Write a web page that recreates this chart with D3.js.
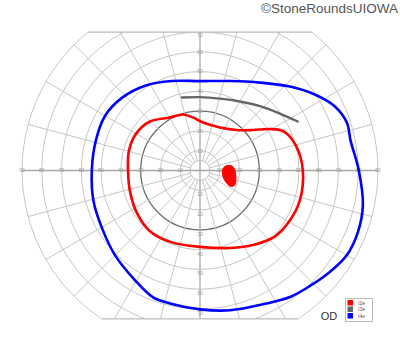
<!DOCTYPE html>
<html>
<head>
<meta charset="utf-8">
<script src="https://cdn.jsdelivr.net/npm/d3@7"></script>
<style>
  html, body { margin: 0; padding: 0; background: #fff; }
  #chart { width: 400px; height: 352px; }
</style>
</head>
<body>
<div id="chart"></div>
<script>
// ── Goldmann visual field, right eye (OD) ──────────
(function () {

  // Grid
  const RINGS       = [10, 20, 30, 40, 50, 60, 70, 80, 90];
  const MERIDIANS   = [0, 15, 30, 45, 60, 75, 90, 105, 120, 135, 150, 165,
                       180, 195, 210, 225, 240, 255, 270, 285, 300, 315, 330, 345];
  const H_LABELS    = [10, 20, 30, 40, 50, 60, 70, 80, 90];
  const V_LABELS    = [10, 20, 30, 40, 50, 60, 70];
  const TOP_LIMIT   = 70;   // field cut at top (deg)
  const BOTTOM_LIMIT = 75;  // field cut at bottom (deg)

  // Isopters: [meridian deg (0 = right, ccw), eccentricity deg]
  const I2E = [
    [0, 52], [14.6, 50.1], [24.9, 46.8], [30.7, 41.1], [37.4, 33.7],
    [47.6, 27.7], [65, 24], [86.4, 24.3], [97.5, 27], [106.9, 29.6],
    [119.5, 30.8], [135.6, 35.4], [150, 37.3], [164.3, 37.3], [180, 36.4],
    [197.4, 37], [214.3, 38.5], [230.7, 39.8], [248.7, 39], [270, 38.6],
    [291.2, 42], [306.6, 46.6], [318.7, 50.5], [331, 52], [343.3, 52.7]
  ];
  const I3E = [
    [103.9, 38], [90, 37.1], [74.5, 37.7], [60, 40.3], [47, 44.5],
    [35.5, 49.6], [26.6, 55.3]
  ];
  const I4E = [
    [0, 80.3], [11.3, 77.6], [18.1, 78.1], [25.4, 75.5], [33.5, 69.6],
    [43, 62.2], [55.7, 53.8], [71.5, 47.7], [90, 45.2], [107.4, 47.4],
    [122.9, 51.1], [136.9, 53.9], [150, 55.4], [164, 54.8], [180, 54.7],
    [195.7, 56], [210.6, 57.5], [225, 60.7], [239.4, 64.5], [249.7, 68.4],
    [257.3, 68.9], [270, 70.2], [282.1, 72.3], [296, 75], [305.4, 78.5],
    [313.6, 80.6], [322, 83.3], [330.1, 85.7], [338.7, 85.7], [348, 84.2]
  ];
  const BLIND_SPOT = [
    [5, 11.7], [10.5, 13.9], [8, 16.3], [0, 17.7], [-12.5, 18.6],
    [-22.5, 19.1], [-27.3, 17.6], [-25.7, 15.1], [-14.6, 12]
  ];

  const LEGEND = [
    { label: "I2e", color: "#ff0000" },
    { label: "I3e", color: "#666666" },
    { label: "I4e", color: "#0000ff" }
  ];

  const W = 400, H = 352;
  const cx = 200, cy = 170.5;
  const FONT = "'Liberation Sans', Arial, sans-serif";

  const r = d3.scaleLinear().domain([0, 90]).range([0, 178]);
  const toXY = (ang, ecc) => {
    const a = ang * Math.PI / 180;
    return [cx + r(ecc) * Math.cos(a), cy - r(ecc) * Math.sin(a)];
  };

  const svg = d3.select("#chart").append("svg")
    .attr("width", W).attr("height", H);

  // ── Clip to the chart outline ──────────────────
  const yTop = cy - r(TOP_LIMIT), yBot = cy + r(BOTTOM_LIMIT);
  svg.append("clipPath").attr("id", "field-clip")
    .append("rect")
    .attr("x", 0).attr("y", yTop).attr("width", W).attr("height", yBot - yTop);

  const grid = svg.append("g").attr("clip-path", "url(#field-clip)");

  // Rings
  grid.selectAll(".ring").data([5].concat(RINGS)).join("circle")
    .attr("cx", cx).attr("cy", cy)
    .attr("r", d => r(d))
    .attr("fill", "none")
    .attr("stroke", d => d === 30 ? "#6e6e6e" : "#c6c6c6")
    .attr("stroke-width", d => d === 30 ? 1.3 : 1);

  // Meridians (from 5 deg outwards)
  grid.selectAll(".meridian").data(MERIDIANS.filter(m => m % 90 !== 0)).join("line")
    .attr("x1", d => toXY(d, 5)[0]).attr("y1", d => toXY(d, 5)[1])
    .attr("x2", d => toXY(d, 90)[0]).attr("y2", d => toXY(d, 90)[1])
    .attr("stroke", "#c6c6c6").attr("stroke-width", 1);

  // Main axes
  grid.append("line").attr("x1", cx - r(90)).attr("x2", cx + r(90))
    .attr("y1", cy).attr("y2", cy).attr("stroke", "#a8a8a8").attr("stroke-width", 1.3);
  grid.append("line").attr("x1", cx).attr("x2", cx)
    .attr("y1", cy - r(90)).attr("y2", cy + r(90)).attr("stroke", "#a8a8a8").attr("stroke-width", 1.3);

  // Top / bottom cut lines
  [[yTop, TOP_LIMIT], [yBot, BOTTOM_LIMIT]].forEach(([y, lim]) => {
    const dx = Math.sqrt(r(90) * r(90) - r(lim) * r(lim));
    svg.append("line").attr("x1", cx - dx).attr("x2", cx + dx)
      .attr("y1", y).attr("y2", y).attr("stroke", "#bdbdbd").attr("stroke-width", 1.2);
  });

  // Axis labels
  const lab = svg.append("g")
    .attr("font-family", FONT).attr("font-size", "5px")
    .attr("fill", "#9a9a9a").attr("text-anchor", "middle");
  H_LABELS.forEach(d => {
    lab.append("text").attr("x", cx - r(d)).attr("y", cy + 1.8).text(d);
    lab.append("text").attr("x", cx + r(d)).attr("y", cy + 1.8).text(d);
  });
  V_LABELS.forEach(d => {
    lab.append("text").attr("x", cx).attr("y", Math.max(cy - r(d) + 1.8, yTop + 5)).text(d);
    lab.append("text").attr("x", cx).attr("y", cy + r(d) + 6).text(d);
  });

  // ── Isopters ───────────────────────────────────
  const closed = d3.line().curve(d3.curveCatmullRomClosed.alpha(0.5));
  const open   = d3.line().curve(d3.curveCatmullRom.alpha(0.5));
  const pts = arr => arr.map(([a, e]) => toXY(a, e));

  svg.append("path").attr("d", closed(pts(I4E)))
    .attr("fill", "none").attr("stroke", "#0000ff").attr("stroke-width", 2.6);
  svg.append("path").attr("d", closed(pts(I2E)))
    .attr("fill", "none").attr("stroke", "#ff0000").attr("stroke-width", 2.6);
  svg.append("path").attr("d", open(pts(I3E)))
    .attr("fill", "none").attr("stroke", "#666666").attr("stroke-width", 2.4)
    .attr("stroke-linecap", "round");
  svg.append("path").attr("d", closed(pts(BLIND_SPOT)))
    .attr("fill", "#ff0000").attr("stroke", "#ff0000").attr("stroke-width", 1);

  // ── Legend ─────────────────────────────────────
  const lg = svg.append("g").attr("transform", "translate(345.5,298.5)");
  lg.append("rect").attr("width", 27).attr("height", 23)
    .attr("fill", "#fff").attr("stroke", "#bbbbbb").attr("stroke-width", 1);
  LEGEND.forEach((d, i) => {
    lg.append("rect").attr("x", 2).attr("y", 1.5 + i * 6.5)
      .attr("width", 5.5).attr("height", 5.5).attr("fill", d.color);
    lg.append("text").attr("x", 12.5).attr("y", 6 + i * 6.5)
      .attr("font-family", FONT).attr("font-size", "5px").attr("fill", "#555")
      .text(d.label);
  });

  svg.append("text").attr("x", 329).attr("y", 320)
    .attr("text-anchor", "middle").attr("font-family", FONT)
    .attr("font-size", "11px").attr("fill", "#333").text("OD");

  svg.append("text").attr("x", 398).attr("y", 13)
    .attr("text-anchor", "end").attr("font-family", FONT)
    .attr("font-size", "13.5px").attr("fill", "#555").text("©StoneRoundsUIOWA");

})();
</script>
</body>
</html>
